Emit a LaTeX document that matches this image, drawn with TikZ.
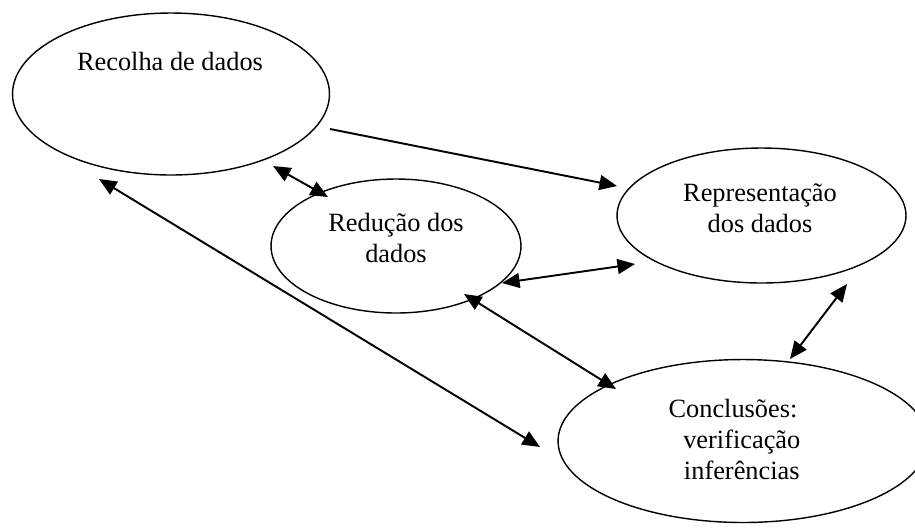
\documentclass[tikz,border=0pt]{standalone}
\usepackage{fontspec}
\setmainfont{Liberation Serif}
\usetikzlibrary{shapes.geometric,arrows.meta}
\begin{document}
\begin{tikzpicture}[x = 0.02cm, y = -0.02cm, >={Triangle[length = 10pt, width = 8.5pt]}]
        \tikzstyle{bubble} = [shape = ellipse, draw, line width = 0.8pt, inner sep = 0pt]
        \tikzstyle{txt} = [font = \fontsize{15}{17.6}\selectfont, align = center, inner sep = 0pt, anchor = base]
        \tikzstyle{link} = [line width = 1.1pt]
        \clip (0, 0) rectangle (915, 529);
        \node[bubble] (E-1) at (171, 94) [minimum width = 6.34cm, minimum height = 3.24cm] {};
        \node[bubble] (E-2) at (396, 246) [minimum width = 5.0cm, minimum height = 2.68cm] {};
        \node[bubble] (E-3) at (761.5, 215.5) [minimum width = 5.78cm, minimum height = 2.7cm] {};
        \node[bubble] (E-4) at (743, 441) [minimum width = 7.4cm, minimum height = 3.26cm] {};
        \node[txt] (T-1) at (170, 70) {Recolha de dados};
        \node[txt] (T-2) at (396, 262) {Redução dos\\dados};
        \node[txt] (T-3) at (760, 232) {Representação\\dos dados};
        \node[txt] (T-4) at (733, 479) {Conclusões:\\\hspace*{10pt}verificação\\\hspace*{10pt}inferências};
        \coordinate (A-1) at (330, 129); \coordinate (B-1) at (617, 186);
        \coordinate (A-2) at (273, 166); \coordinate (B-2) at (328, 197);
        \coordinate (A-3) at (99, 179); \coordinate (B-3) at (540, 447);
        \coordinate (A-4) at (502, 283); \coordinate (B-4) at (635, 264);
        \coordinate (A-5) at (464, 294); \coordinate (B-5) at (616, 389);
        \coordinate (A-6) at (847, 284); \coordinate (B-6) at (790, 359);
        \draw[link, ->] (A-1) -- (B-1);
        \draw[link, <->] (A-2) -- (B-2);
        \draw[link, <->] (A-3) -- (B-3);
        \draw[link, <->] (A-4) -- (B-4);
        \draw[link, <->] (A-5) -- (B-5);
        \draw[link, <->] (A-6) -- (B-6);
      \end{tikzpicture}
\end{document}
